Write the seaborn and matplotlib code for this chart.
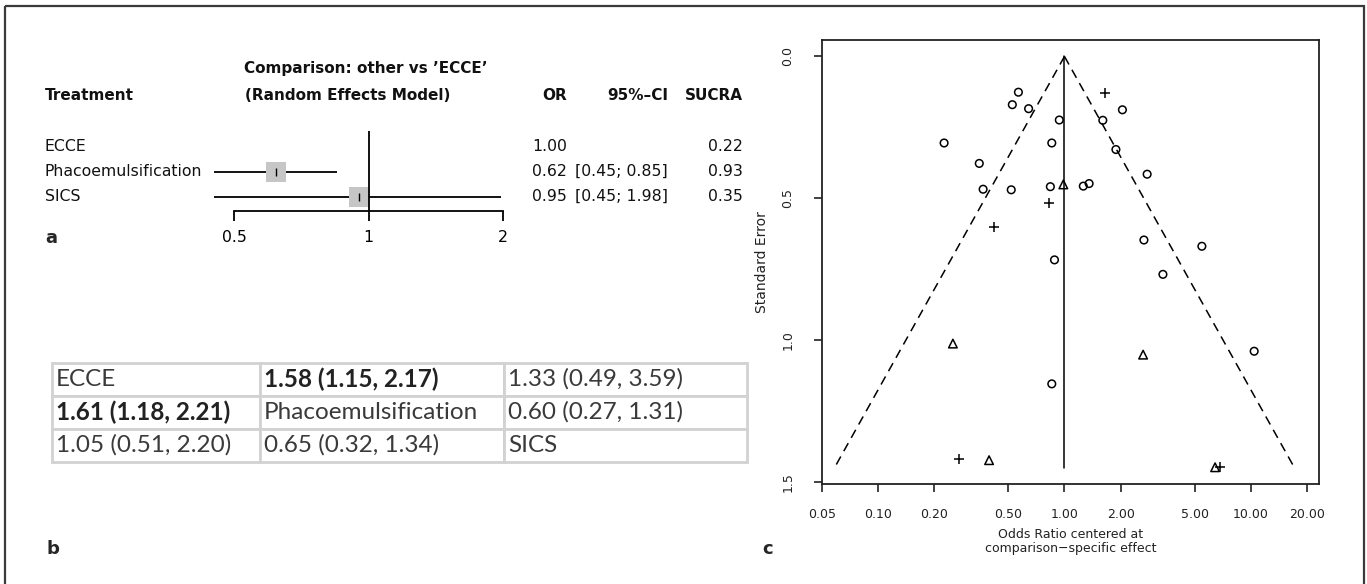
import numpy as np
import pandas as pd
import seaborn as sns
import matplotlib.pyplot as plt
from matplotlib.patches import Rectangle
from matplotlib.ticker import NullLocator

# ---- data: panel a (forest plot, other vs ECCE) ----
treatments = ["ECCE", "Phacoemulsification", "SICS"]
or_est = [1.00, 0.62, 0.95]
ci_low = [np.nan, 0.45, 0.45]
ci_high = [np.nan, 0.85, 1.98]
sucra = [0.22, 0.93, 0.35]
forest_ticks = [0.5, 1, 2]

# ---- data: panel b (league table) ----
league = [
    ["ECCE", "1.58 (1.15, 2.17)", "1.33 (0.49, 3.59)"],
    ["1.61 (1.18, 2.21)", "Phacoemulsification", "0.60 (0.27, 1.31)"],
    ["1.05 (0.51, 2.20)", "0.65 (0.32, 1.34)", "SICS"],
]
league_bold = [(0, 1), (1, 0)]

# ---- data: panel c (comparison-adjusted funnel plot) ----
circle_or = [0.566, 0.525, 0.642, 0.938, 0.855, 0.226, 0.349, 0.366, 0.518, 0.840, 1.262,
             1.356, 1.606, 2.046, 1.888, 2.777, 2.669, 5.46, 0.884, 3.375, 10.42, 0.855]
circle_se = [0.126, 0.170, 0.184, 0.224, 0.305, 0.305, 0.377, 0.468, 0.470, 0.459, 0.457,
             0.448, 0.225, 0.188, 0.328, 0.415, 0.647, 0.669, 0.717, 0.768, 1.039, 1.154]
triangle_or = [0.986, 0.252, 2.642, 0.394, 6.43]
triangle_se = [0.451, 1.012, 1.051, 1.423, 1.448]
plus_or = [1.656, 0.830, 0.417, 0.273, 6.79]
plus_se = [0.129, 0.516, 0.601, 1.420, 1.448]
funnel_se = [0.0, 1.45]
funnel_ticks = [0.05, 0.10, 0.20, 0.50, 1.00, 2.00, 5.00, 10.00, 20.00]
se_ticks = [0.0, 0.5, 1.0, 1.5]

sns.set_theme(style="white")
plt.rcParams['font.family'] = ['DejaVu Sans']
W, H = 1367, 584
fig = plt.figure(figsize=(W / 100, H / 100), dpi=100)

# overlay axes in pixel coordinates for text, table and frame
ax0 = fig.add_axes([0, 0, 1, 1], zorder=0)
ax0.set_xlim(0, W)
ax0.set_ylim(H, 0)
ax0.axis("off")
ax0.add_patch(Rectangle((5, 6), 1359, 600, fill=False, ec="#3a3a3a", lw=1.6, clip_on=False))


def px_axes(left, top, right, bottom):
    return fig.add_axes([left / W, 1 - bottom / H, (right - left) / W, (bottom - top) / H])


# ---------------- panel a ----------------
hdr = dict(fontsize=11, fontweight="bold", va="center", color="#111")
ax0.text(45, 95, "Treatment", ha="left", **hdr)
ax0.text(244, 69, "Comparison: other vs ’ECCE’", ha="left", **hdr)
ax0.text(245, 95, "(Random Effects Model)", ha="left", **hdr)
ax0.text(567, 95, "OR", ha="right", **hdr)
ax0.text(668, 95, "95%–CI", ha="right", **hdr)
ax0.text(743, 95, "SUCRA", ha="right", **hdr)

row_y = [146.7, 171.7, 196.7]
reg = dict(fontsize=11.3, va="center", color="#111")
for i, t in enumerate(treatments):
    ax0.text(45, row_y[i], t, ha="left", **reg)
    ax0.text(567, row_y[i], f"{or_est[i]:.2f}", ha="right", **reg)
    if not np.isnan(ci_low[i]):
        ax0.text(668, row_y[i], f"[{ci_low[i]:.2f}; {ci_high[i]:.2f}]", ha="right", **reg)
    ax0.text(743, row_y[i], f"{sucra[i]:.2f}", ha="right", **reg)

ax1 = px_axes(234.3, 125, 503.3, 210.7)
ax1.set_xscale("log", base=2)
ax1.set_xlim(0.5, 2)
ax1.set_ylim(2.56, -0.87)
ax1.patch.set_alpha(0)
rows = np.arange(len(treatments))
has_ci = ~np.isnan(ci_low)
ax1.hlines(rows[has_ci], np.array(ci_low)[has_ci], np.array(ci_high)[has_ci],
           color="black", lw=1.3, clip_on=False, zorder=2)
ax1.vlines(1, -0.63, 2.56, color="black", lw=1.3, zorder=4)
sns.scatterplot(x=np.array(or_est)[has_ci], y=rows[has_ci], marker="s", s=200,
                color="#c6c6c6", edgecolor="none", ax=ax1, clip_on=False, zorder=3)
sns.scatterplot(x=np.array(or_est)[has_ci], y=rows[has_ci], marker="|", s=40,
                color="black", linewidth=1, ax=ax1, clip_on=False, zorder=5)
for s in ["left", "top", "right"]:
    ax1.spines[s].set_visible(False)
ax1.spines["bottom"].set_bounds(0.5, 2)
ax1.spines["bottom"].set_linewidth(1.3)
ax1.spines["bottom"].set_color("black")
ax1.set_xticks(forest_ticks)
ax1.set_xticklabels([str(v) for v in forest_ticks])
ax1.xaxis.set_minor_locator(NullLocator())
ax1.set_yticks([])
ax1.tick_params(axis="x", bottom=True, direction="out", length=7, width=1.3,
                labelsize=11.3, pad=7, colors="black")
ax1.set_xlabel("")
ax1.set_ylabel("")
ax0.text(45, 238, "a", fontsize=13, fontweight="bold", va="center", ha="left")

# ---------------- panel b ----------------
tb_left, tb_top, tb_right, tb_bottom = 52, 362.7, 747, 461.7
col_w = np.array([207.5, 244.5, 243.0])
tbl = ax0.table(cellText=league, cellLoc="left", colWidths=list(col_w / col_w.sum()),
                bbox=[tb_left / W, 1 - tb_bottom / H, (tb_right - tb_left) / W,
                      (tb_bottom - tb_top) / H])
tbl.auto_set_font_size(False)
tbl.set_fontsize(17.5)
for (r, c), cell in tbl.get_celld().items():
    cell.set_edgecolor("#d2d2d2")
    cell.set_linewidth(2)
    cell.PAD = 0.018
    txt = cell.get_text()
    txt.set_family(["Lato", "DejaVu Sans"])
    txt.set_fontweight("normal")
    txt.set_color("#3a3a3a")
    if (r, c) in league_bold:
        txt.set_fontweight("bold")
        txt.set_color("#222222")
ax0.text(46, 549, "b", fontsize=13, fontweight="bold", va="center", ha="left")

# ---------------- panel c ----------------
ax2 = px_axes(822, 40, 1319.3, 484.3)
ax2.set_xscale("log")
ax2.set_xlim(0.05, 23.3)
ax2.set_ylim(1.508, -0.058)
fse = np.array(funnel_se)
ax2.plot(np.exp(-1.96 * fse), fse, color="black", lw=1.1, dashes=(6, 4))
ax2.plot(np.exp(1.96 * fse), fse, color="black", lw=1.1, dashes=(6, 4))
ax2.plot([1, 1], fse, color="black", lw=1.1)
sns.scatterplot(x=circle_or, y=circle_se, marker="o", s=30, facecolor="none",
                edgecolor="black", linewidth=1.1, ax=ax2, zorder=3)
sns.scatterplot(x=triangle_or, y=triangle_se, marker="^", s=38, facecolor="none",
                edgecolor="black", linewidth=1.1, ax=ax2, zorder=3)
sns.scatterplot(x=plus_or, y=plus_se, marker="+", s=60, color="black",
                linewidth=1.1, ax=ax2, zorder=3)
for s in ax2.spines.values():
    s.set_visible(True)
    s.set_color("#222222")
    s.set_linewidth(1.3)
ax2.set_xticks(funnel_ticks)
ax2.set_xticklabels([f"{v:.2f}" for v in funnel_ticks])
ax2.xaxis.set_minor_locator(NullLocator())
ax2.set_yticks(se_ticks)
ax2.set_yticklabels([f"{v:.1f}" for v in se_ticks], rotation=90, va="center")
ax2.tick_params(axis="both", direction="out", length=6, width=1.2, labelsize=9,
                colors="#222222")
ax2.tick_params(axis="x", bottom=True, pad=11)
ax2.tick_params(axis="y", left=True, pad=14)
ax2.set_xlabel("Odds Ratio centered at\ncomparison−specific effect", fontsize=9,
               labelpad=5, color="#222222", linespacing=1.15)
ax2.set_ylabel("Standard Error", fontsize=10, labelpad=9, color="#222222")
ax0.text(762, 549, "c", fontsize=13, fontweight="bold", va="center", ha="left")

fig.savefig("out.png", dpi=100)
